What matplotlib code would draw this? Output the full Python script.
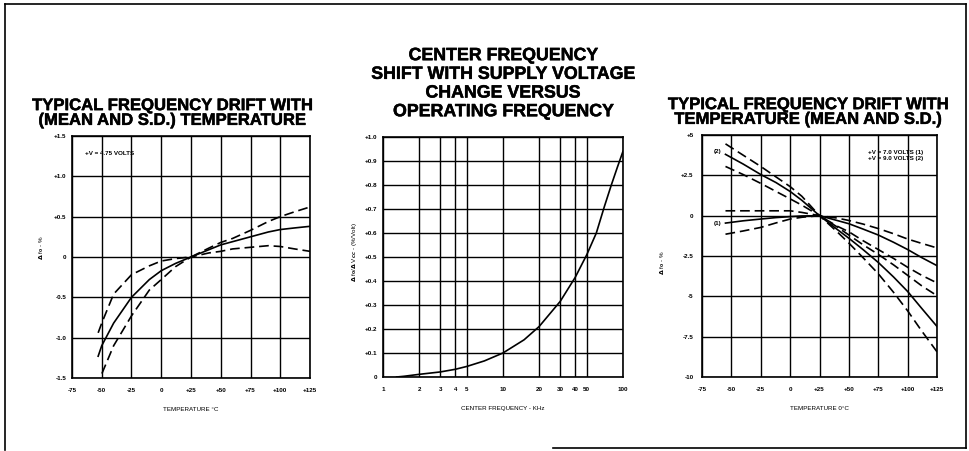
import matplotlib
matplotlib.use('Agg')
import matplotlib.pyplot as plt
import matplotlib.ticker as ticker
import matplotlib.patheffects as pe
from matplotlib.lines import Line2D

plt.rcParams.update({'font.family': ['Liberation Sans', 'DejaVu Sans'],
                     'font.weight': 'bold',
                     'lines.scale_dashes': False})

# left panel: drift at +V = 4.75 V
temp1 = [-53, -50, -40, -25, -10, 0, 12, 25, 40, 50, 60, 75, 90, 100, 112, 125]
drift1_mean = [-1.23, -1.1, -0.82, -0.5, -0.28, -0.17, -0.08, 0, 0.09, 0.15, 0.19, 0.25, 0.31, 0.34, 0.36, 0.38]
drift1_hi = [-0.94, -0.82, -0.46, -0.22, -0.11, -0.05, -0.02, 0, 0.11, 0.18, 0.23, 0.33, 0.44, 0.5, 0.56, 0.62]
drift1_lo = [-1.62, -1.45, -1.1, -0.73, -0.41, -0.28, -0.12, 0, 0.05, 0.07, 0.1, 0.12, 0.14, 0.13, 0.1, 0.07]
xticks1 = [-75, -50, -25, 0, 25, 50, 75, 100, 125]
xlabels1 = ['-75', '-50', '-25', '0', '+25', '+50', '+75', '+100', '+125']
yticks1 = [-1.5, -1.0, -0.5, 0, 0.5, 1.0, 1.5]
ylabels1 = ['-1.5', '-1.0', '-0.5', '0', '+0.5', '+1.0', '+1.5']

# middle panel: shift vs frequency
freq = [1.3, 1.5, 2, 3, 4, 5, 7, 10, 15, 20, 30, 40, 50, 60, 70, 80, 90, 100]
shift = [0.0, 0.003, 0.011, 0.021, 0.032, 0.044, 0.067, 0.1, 0.155, 0.21, 0.315, 0.415, 0.51, 0.6, 0.71, 0.8, 0.875, 0.94]
xticks2 = [1, 2, 3, 4, 5, 10, 20, 30, 40, 50, 100]
yticks2 = [0, 0.1, 0.2, 0.3, 0.4, 0.5, 0.6, 0.7, 0.8, 0.9, 1.0]
ylabels2 = ['0', '+0.1', '+0.2', '+0.3', '+0.4', '+0.5', '+0.6', '+0.7', '+0.8', '+0.9', '+1.0']

# right panel: drift at 7.0 V (1) and 9.0 V (2)
temp3 = [-55, -40, -25, -12, 0, 10, 25, 40, 50, 62, 75, 88, 100, 112, 125]
v7_mean = [-0.46, -0.32, -0.21, -0.12, -0.06, -0.02, 0, -0.3, -0.5, -0.83, -1.2, -1.65, -2.1, -2.6, -3.1]
v7_hi = [0.3, 0.3, 0.3, 0.3, 0.3, 0.2, 0, -0.15, -0.3, -0.52, -0.8, -1.12, -1.45, -1.72, -2.0]
v7_lo = [-1.15, -0.95, -0.73, -0.45, -0.21, -0.1, 0, -0.65, -1.0, -1.55, -2.1, -2.65, -3.2, -3.7, -4.17]
v9_mean = [3.8, 3.2, 2.55, 2.05, 1.5, 0.95, 0, -0.85, -1.4, -2.1, -2.9, -3.8, -4.7, -5.75, -6.87]
v9_hi = [4.45, 3.75, 3.05, 2.4, 1.8, 1.2, 0, -0.7, -1.2, -1.8, -2.4, -3.05, -3.7, -4.35, -4.96]
v9_lo = [3.05, 2.55, 2.0, 1.5, 1.04, 0.65, 0, -1.0, -1.7, -2.6, -3.6, -4.75, -5.9, -7.15, -8.44]
xticks3 = xticks1
xlabels3 = xlabels1
yticks3 = [-10, -7.5, -5, -2.5, 0, 2.5, 5]
ylabels3 = ['-10', '-7.5', '-5', '-2.5', '0', '+2.5', '+5']

dash = (0, (7, 3.5))
lw = 1.2
small = 4.5
heavy = [pe.withStroke(linewidth=0.35, foreground='black')]

fig = plt.figure(figsize=(9.7, 4.51), dpi=100)
ax1 = fig.add_axes([0.0742, 0.1619, 0.2454, 0.5366])
ax2 = fig.add_axes([0.3948, 0.1641, 0.2474, 0.532])
ax3 = fig.add_axes([0.7237, 0.1641, 0.2423, 0.5366])

for ax in (ax1, ax2, ax3):
    ax.grid(True, color='black', linewidth=1.0)
    ax.tick_params(length=0, labelsize=small, pad=7)
    for s in ax.spines.values():
        s.set_linewidth(1.2)

# left
ax1.plot(temp1, drift1_mean, color='black', linewidth=lw)
ax1.plot(temp1, drift1_hi, color='black', linewidth=lw, linestyle=dash)
ax1.plot(temp1, drift1_lo, color='black', linewidth=lw, linestyle=dash)
ax1.set_xlim(-75, 125)
ax1.set_ylim(-1.5, 1.5)
ax1.xaxis.set_major_locator(ticker.FixedLocator(xticks1))
ax1.xaxis.set_major_formatter(ticker.FixedFormatter(xlabels1))
ax1.yaxis.set_major_locator(ticker.FixedLocator(yticks1))
ax1.yaxis.set_major_formatter(ticker.FixedFormatter(ylabels1))
ax1.tick_params(axis='y', pad=4)
ax1.text(-64, 1.28, '+V = 4.75 VOLTS', fontsize=small, va='center')
ax1.set_xlabel('TEMPERATURE °C', fontsize=small, labelpad=10)
ax1.set_ylabel('$\\Delta$ f$_0$ - %', fontsize=small)
ax1.yaxis.set_label_coords(-0.11, 0.54)
t = ax1.set_title('TYPICAL FREQUENCY DRIFT WITH\n(MEAN AND S.D.) TEMPERATURE',
                  fontsize=12, fontweight='bold', linespacing=0.98, pad=8, x=0.42)
t.set_path_effects(heavy)

# middle
ax2.plot(freq, shift, color='black', linewidth=lw)
ax2.set_xscale('log')
ax2.set_xlim(1, 100)
ax2.set_ylim(0, 1.0)
ax2.xaxis.set_major_locator(ticker.FixedLocator(xticks2))
ax2.xaxis.set_major_formatter(ticker.FixedFormatter([str(t) for t in xticks2]))
ax2.xaxis.set_minor_locator(ticker.NullLocator())
ax2.yaxis.set_major_locator(ticker.FixedLocator(yticks2))
ax2.yaxis.set_major_formatter(ticker.FixedFormatter(ylabels2))
ax2.tick_params(axis='y', pad=4)
ax2.set_xlabel('CENTER FREQUENCY - KHz', fontsize=small, labelpad=10)
ax2.set_ylabel('$\\Delta$ f$_0$/$\\Delta$ V$_{CC}$ - (%/Volt)', fontsize=small)
ax2.yaxis.set_label_coords(-0.1, 0.52)
t = ax2.set_title('CENTER FREQUENCY\nSHIFT WITH SUPPLY VOLTAGE\nCHANGE VERSUS\nOPERATING FREQUENCY',
                  fontsize=12.8, fontweight='bold', linespacing=1.13, pad=15, x=0.5)
t.set_path_effects(heavy)

# right
ax3.plot(temp3, v7_mean, color='black', linewidth=lw)
ax3.plot(temp3, v7_hi, color='black', linewidth=lw, linestyle=dash)
ax3.plot(temp3, v7_lo, color='black', linewidth=lw, linestyle=dash)
ax3.plot(temp3, v9_mean, color='black', linewidth=lw)
ax3.plot(temp3, v9_hi, color='black', linewidth=lw, linestyle=dash)
ax3.plot(temp3, v9_lo, color='black', linewidth=lw, linestyle=dash)
ax3.set_xlim(-75, 125)
ax3.set_ylim(-10, 5)
ax3.xaxis.set_major_locator(ticker.FixedLocator(xticks3))
ax3.xaxis.set_major_formatter(ticker.FixedFormatter(xlabels3))
ax3.yaxis.set_major_locator(ticker.FixedLocator(yticks3))
ax3.yaxis.set_major_formatter(ticker.FixedFormatter(ylabels3))
ax3.tick_params(axis='y', pad=6)
ax3.text(-58, 3.98, '(2)', fontsize=small, ha='right', va='center')
ax3.text(-58, -0.46, '(1)', fontsize=small, ha='right', va='center')
ax3.text(113, 3.94, '+V = 7.0 VOLTS (1)', fontsize=small, ha='right', va='center')
ax3.text(113, 3.57, '+V = 9.0 VOLTS (2)', fontsize=small, ha='right', va='center')
ax3.set_xlabel('TEMPERATURE 0°C', fontsize=small, labelpad=10)
ax3.set_ylabel('$\\Delta$ f$_0$ - %', fontsize=small)
ax3.yaxis.set_label_coords(-0.15, 0.47)
t = ax3.set_title('TYPICAL FREQUENCY DRIFT WITH\nTEMPERATURE (MEAN AND S.D.)',
                  fontsize=12, fontweight='bold', linespacing=0.98, pad=8, x=0.45)
t.set_path_effects(heavy)

# scanned page frame
W, H = 970.0, 451.0
frame = [((5, 5), (4, 450)), ((5, 966), (4, 4)), ((966, 966), (4, 448)), ((553, 966), (448, 448))]
for xs, ys in frame:
    fig.add_artist(Line2D([x / W for x in xs], [1 - y / H for y in ys],
                          transform=fig.transFigure, color='black', linewidth=1.2))

fig.savefig('out.png', dpi=100, facecolor='white')
